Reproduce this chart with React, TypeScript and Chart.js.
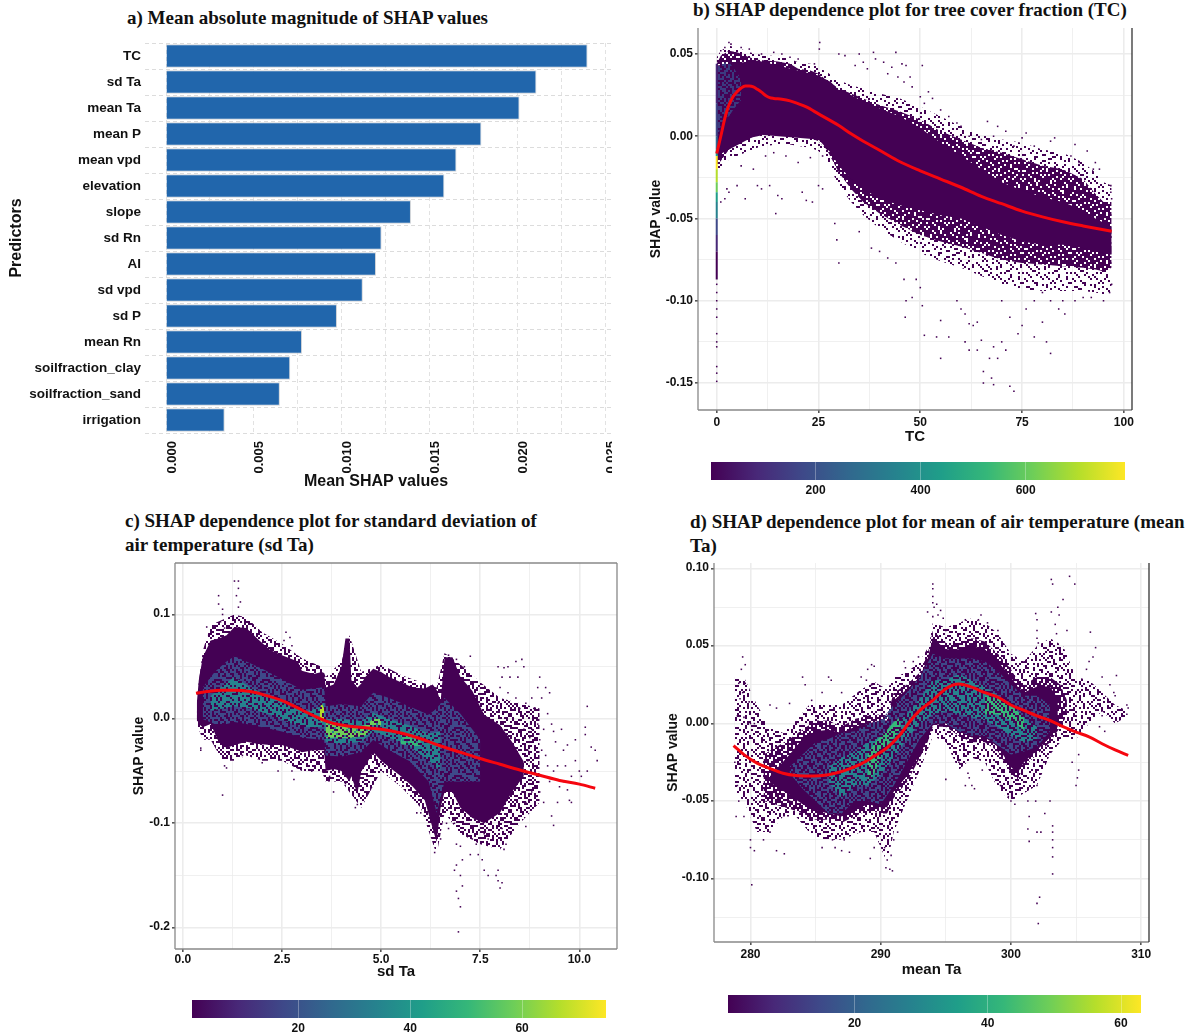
import React, { useEffect, useRef } from "react";
import { Chart, registerables } from "chart.js";
Chart.register(...registerables);

const SANS = "'Liberation Sans', Arial, sans-serif";
const SERIF = "'Liberation Serif', 'Times New Roman', serif";
const DARK = "#440154";

// ---------- panel a ----------
const predictors = ["TC","sd Ta","mean Ta","mean P","mean vpd","elevation","slope","sd Rn","AI","sd vpd","sd P","mean Rn","soilfraction_clay","soilfraction_sand","irrigation"];
const meanShap = [0.02399,0.02108,0.02012,0.01795,0.01653,0.01584,0.01394,0.01227,0.01195,0.0112,0.00973,0.00774,0.00707,0.00648,0.00334];
const shapTicks = [0,0.0025,0.005,0.0075,0.01,0.0125,0.015,0.0175,0.02,0.0225,0.025];
const shapMajor = [0,0.005,0.01,0.015,0.02,0.025];

// ---------- panel b ----------
const tcXTicks = [0,12.5,25,37.5,50,62.5,75,87.5,100];
const tcXMajor = [0,25,50,75,100];
const tcYTicks = [0.05,0.025,0,-0.025,-0.05,-0.075,-0.1,-0.125,-0.15];
const tcYMajor = [0.05,0,-0.05,-0.1,-0.15];
const tcOuterX = [0,1,3,5,8,10,12,15,18,20,23,25,27,30,33,36,40,45,50,55,60,65,70,75,80,85,90,93,95,97];
const tcFringeHi = [0.048,0.052,0.055,0.054,0.051,0.05,0.049,0.049,0.047,0.045,0.044,0.042,0.039,0.034,0.031,0.029,0.026,0.023,0.018,0.012,0.006,0.001,-0.002,-0.004,-0.008,-0.01,-0.016,-0.022,-0.028,-0.03];
const tcFringeLo = [-0.022,-0.02,-0.014,-0.012,-0.009,-0.007,-0.006,-0.005,-0.005,-0.006,-0.007,-0.009,-0.015,-0.03,-0.04,-0.048,-0.056,-0.064,-0.071,-0.076,-0.08,-0.085,-0.09,-0.093,-0.094,-0.094,-0.094,-0.095,-0.096,-0.095];
const tcOuterHi = [0.044,0.049,0.052,0.051,0.048,0.0465,0.046,0.0455,0.044,0.041,0.04,0.038,0.034,0.029,0.026,0.023,0.019,0.015,0.01,0.003,-0.002,-0.007,-0.01,-0.014,-0.018,-0.02,-0.026,-0.035,-0.04,-0.04];
const tcOuterLo = [-0.018,-0.015,-0.008,-0.004,-0.001,0,0.001,0.003,0.002,0.001,-0.001,-0.003,-0.008,-0.022,-0.032,-0.04,-0.047,-0.054,-0.06,-0.064,-0.067,-0.071,-0.075,-0.077,-0.078,-0.079,-0.08,-0.081,-0.082,-0.08];
const tcCoreX = [0,10,25,28,30,33,36,40,45,50,55,60,65,70,75,80,85,90,93,97];
const tcCoreHi = [0.043,0.046,0.037,0.033,0.028,0.025,0.021,0.017,0.012,0.005,-0.004,-0.012,-0.02,-0.028,-0.033,-0.037,-0.04,-0.045,-0.05,-0.055];
const tcCoreLo = [-0.012,0.001,-0.002,-0.01,-0.018,-0.026,-0.032,-0.038,-0.042,-0.045,-0.048,-0.05,-0.055,-0.06,-0.064,-0.066,-0.066,-0.068,-0.07,-0.072];
const tcGlowX = [0.3,1.2,2.4,3,4,6];
const tcGlowHi = [0.043,0.044,0.045,0.045,0.042,0.035];
const tcGlowLo = [0,0.008,0.012,0.012,0.016,0.022];
const tcStripY = [0.044,0.02,0,-0.008,-0.012,-0.02,-0.028,-0.034,-0.04,-0.05,-0.06,-0.07,-0.087];
const tcStripCount = [60,170,300,420,760,720,620,480,330,200,100,40,5];
const tcCurveX = [0,1,2,3,4,5,6,7,8,9,10,11,12,13,14,16,18,20,22,25,30,33,36,40,45,50,55,60,65,70,75,80,85,90,97];
const tcCurveY = [-0.0105,0,0.011,0.019,0.024,0.027,0.0293,0.0305,0.0305,0.03,0.0285,0.0268,0.0248,0.0235,0.023,0.0225,0.0215,0.0198,0.0178,0.0136,0.0065,0.0015,-0.003,-0.0085,-0.0155,-0.021,-0.026,-0.031,-0.0365,-0.041,-0.0455,-0.049,-0.052,-0.0545,-0.0577];
const tcSparse = [[25.3,.057],[25.2,.053],[30,.05],[31.5,.049],[35,.05],[38.5,.051],[39,.047],[41,.045],[43,.042],[44,.051],[45.5,.044],[46.5,.043],[50.5,.043],[36,.045],[37,.041],[34,.043],[42,.038],[44.5,.036],[46,.033],[47.5,.036],[48,.03],[52,.027],[53,.023],[50,.024],[51,.02],[55,.016],[57,.012],[59,.008],[60,.006],[62,0],[65,-.002],[66.5,.009],[69,.006],[68,0],[71,.003],[73,-.006],[75,-.001],[76,.002],[78,-.006],[82,-.003],[83,-.001],[88,-.005],[91,-.009],[87,-.012],[89,-.016],[93,-.016],[92.5,-.02],[94,-.02],[3,-.034],[5,-.03],[7,-.038],[10,-.03],[11,-.032],[13,-.03],[15,-.036],[16,-.038],[14.5,-.047],[2,-.038],[2.5,-.032],[1,-.04],[21,-.034],[22,-.039],[23.5,-.04],[26,-.032],[25,-.03],[29,-.053],[29.5,-.063],[30,-.077],[35,-.058],[38,-.068],[40,-.07],[42,-.074],[44,-.077],[46,-.087],[46.5,-.1],[46.3,-.11],[48,-.098],[49,-.087],[50,-.092],[50.5,-.103],[51,-.121],[54,-.122],[55,-.112],[55,-.135],[57,-.122],[60,-.105],[61,-.108],[59,-.1],[62,-.114],[63,-.115],[64,-.113],[61,-.125],[62,-.13],[64,-.13],[65,-.124],[65.5,-.15],[65.5,-.143],[67,-.135],[67.5,-.147],[68,-.151],[68,-.128],[69,-.135],[70,-.125],[71,-.13],[72,-.152],[73,-.155],[74,-.12],[75,-.115],[76,-.105],[78,-.122],[80,-.113],[81,-.125],[82,-.132],[84,-.105],[85,-.1],[85.5,-.108],[88,-.1],[90,-.098],[92,-.098],[96.5,-.095],[97,-.09],[95,-.1],[70,-.1],[72,-.11],[78,-.1],[80,-.095],[82,-.1],[0,-.09],[0,-.095],[0,-.1],[0,-.105],[0,-.11],[0,-.12],[0,-.125],[0,-.128],[0,-.14],[0,-.144],[0,-.149],[96.8,-.03],[96.8,-.034],[97,-.038],[1,.052],[2,.054],[3,.057],[3.5,.056],[6,.054],[8,.053],[11,.05],[14,.051],[16,.05],[18,.048],[20,.047],[24,.044],[6,-.018],[9,-.02],[12,-.012],[14,-.01],[17,-.012],[20,-.016],[23,-.013],[26,-.012]];

// ---------- panel c ----------
const sdXTicks = [0,1.25,2.5,3.75,5,6.25,7.5,8.75,10];
const sdXMajor = [0,2.5,5,7.5,10];
const sdYTicks = [0.1,0.05,0,-0.05,-0.1,-0.15,-0.2];
const sdYMajor = [0.1,0,-0.1,-0.2];
const sdOuterX = [0.35,0.5,0.7,1,1.3,1.6,2,2.5,3,3.5,3.6,4,4.2,4.5,5,5.5,6,6.4,6.6,7,7.5,8,8.5,9];
const sdOuterHi = [0.02,0.065,0.09,0.095,0.1,0.097,0.083,0.072,0.058,0.05,0.04,0.055,0.08,0.045,0.052,0.042,0.035,0.03,0.063,0.052,0.035,0.02,0.015,0.01];
const sdOuterLo = [-0.005,-0.02,-0.02,-0.04,-0.04,-0.035,-0.04,-0.04,-0.05,-0.05,-0.06,-0.06,-0.07,-0.085,-0.05,-0.065,-0.085,-0.13,-0.09,-0.11,-0.12,-0.125,-0.1,-0.08];
const sdCoreX = [0.35,0.4,0.5,0.7,0.9,1.1,1.3,1.6,1.9,2.2,2.5,2.9,3,3.3,3.5,3.56,3.6,3.8,4,4.1,4.2,4.25,4.4,4.5,4.6,4.8,5,5.2,5.5,5.8,6.1,6.3,6.4,6.5,6.6,6.8,7,7.3,7.6,8,8.3,8.6];
const sdCoreHi = [0.015,0.037,0.059,0.075,0.077,0.08,0.088,0.087,0.076,0.066,0.061,0.055,0.046,0.043,0.045,0.044,0.03,0.033,0.05,0.077,0.077,0.037,0.03,0.034,0.04,0.048,0.045,0.04,0.035,0.03,0.029,0.033,0.028,0.017,0.059,0.059,0.04,0.027,0.004,-0.006,-0.022,-0.041];
const sdCoreLo = [0,-0.005,-0.008,-0.005,-0.022,-0.028,-0.025,-0.022,-0.024,-0.025,-0.025,-0.03,-0.032,-0.03,-0.03,-0.03,-0.05,-0.048,-0.05,-0.055,-0.06,-0.055,-0.072,-0.05,-0.045,-0.032,-0.04,-0.046,-0.055,-0.065,-0.078,-0.105,-0.118,-0.085,-0.07,-0.07,-0.085,-0.095,-0.1,-0.09,-0.07,-0.055];
const sdB1X = [0.5,0.8,1.1,1.3,1.6,2,2.5,3,3.5,3.56,3.6,4,4.5,4.8,5.2,5.7,6.2,6.4,6.6,7,7.5];
const sdB1Lo = [0,-0.005,-0.005,-0.003,-0.005,-0.008,-0.012,-0.018,-0.02,-0.02,-0.035,-0.036,-0.032,-0.02,-0.03,-0.04,-0.06,-0.09,-0.06,-0.06,-0.06];
const sdB1Hi = [0.03,0.045,0.055,0.06,0.055,0.048,0.038,0.028,0.03,0.032,0.012,0.014,0.012,0.025,0.02,0.012,0.004,0.01,0.02,0.005,-0.02];
const sdB2X = [0.7,1,1.3,1.7,2.2,2.7,3.1,3.5,3.56,3.6,4,4.5,4.8,5.2,5.7,6.2,6.5];
const sdB2Lo = [0.008,0.01,0.012,0.01,0.004,-0.004,-0.008,-0.008,-0.005,-0.022,-0.024,-0.022,-0.012,-0.018,-0.026,-0.04,-0.05];
const sdB2Hi = [0.022,0.032,0.04,0.03,0.022,0.012,0.007,0.012,0.018,0,0,-0.002,0.006,0,-0.006,-0.014,-0.012];
const sdB3X = [3.6,3.9,4.3,4.6,4.8,5];
const sdB3Lo = [-0.018,-0.018,-0.018,-0.016,-0.006,-0.006];
const sdB3Hi = [-0.004,-0.006,-0.008,-0.006,0,0];
const sdB4X = [3.45,3.5,3.56];
const sdB4Lo = [0,-0.003,0];
const sdB4Hi = [0.008,0.015,0.01];
const sdB5X = [5.5,5.8,6];
const sdB5Lo = [-0.024,-0.026,-0.026];
const sdB5Hi = [-0.012,-0.016,-0.018];
const sdCurveX = [0.33,0.6,1,1.3,1.7,2,2.5,3,3.3,3.6,3.8,4.2,4.6,5,5.5,6,6.5,7,7.5,8,8.5,9,9.5,10,10.4];
const sdCurveY = [0.0245,0.0262,0.0275,0.0275,0.0262,0.0235,0.0175,0.0085,0.003,-0.002,-0.0045,-0.007,-0.0085,-0.01,-0.0135,-0.019,-0.026,-0.032,-0.038,-0.0435,-0.049,-0.054,-0.059,-0.0625,-0.0665];
const sdSparse = [[.9,.118],[.9,.11],[1,.1],[1.3,.132],[1.4,.132],[1.4,.125],[1.35,.118],[1.45,.112],[1.4,.107],[1,.105],[.95,.093],[1.05,.087],[.6,.088],[.65,.08],[2.6,.083],[2.55,.075],[2.75,.07],[2.7,.078],[3.1,.05],[1,-.073],[.45,-.028],[.45,-.03],[1.05,-.045],[1.1,-.047],[1.5,-.035],[2,-.042],[2.4,-.05],[2.8,-.058],[2.75,-.05],[3.25,-.05],[3.7,-.055],[3.8,-.07],[4.35,-.085],[4.4,-.082],[4.1,-.062],[6.7,.061],[6.9,.057],[7.25,.06],[7.1,.05],[7.95,.05],[8.1,.049],[8.2,.05],[8.4,.055],[8.55,.057],[8.6,.05],[8.25,.04],[8.45,.04],[8.05,.04],[9,.04],[8.95,.03],[9.15,.03],[9.25,.025],[9.05,.02],[8.8,.02],[8.65,.015],[8.4,.02],[8.2,.025],[8,.03],[7.95,.015],[8.5,.01],[8.85,.01],[9.3,-.005],[9.35,-.012],[9.55,-.01],[9.7,-.025],[9.9,-.02],[10.15,-.008],[10.15,-.015],[10.2,.012],[10.4,-.03],[10.45,-.04],[10.3,-.027],[9.1,-.01],[9,-.02],[8.8,-.01],[8.6,-.01],[8.4,-.02],[8.7,-.03],[9.15,-.035],[9.45,-.045],[9.65,-.045],[9.8,-.055],[9.35,-.05],[8.9,-.045],[8.75,-.055],[8.5,-.05],[8.55,-.07],[9,-.07],[9.1,-.08],[9.45,-.08],[9.75,-.078],[9.8,-.08],[9.3,-.093],[9.35,-.102],[8.65,-.08],[8.65,-.103],[8.35,-.06],[8.5,-.04],[10,-.05],[10.2,-.05],[10.05,-.055],[6.9,-.12],[7,-.122],[6.9,-.14],[6.85,-.145],[7,-.15],[6.9,-.165],[6.95,-.172],[7.05,-.16],[7,-.18],[6.95,-.204],[7.05,-.135],[7.25,-.13],[7.3,-.115],[7.4,-.12],[7.45,-.13],[7.55,-.135],[7.6,-.145],[7.6,-.11],[7.9,-.15],[7.95,-.155],[8,-.162],[7.95,-.145],[8.05,-.157],[7.7,-.115],[8.1,-.125],[8.15,-.12],[8.05,-.105],[6.85,-.1],[6.7,-.105],[6.65,-.1],[5.9,-.09],[6,-.09],[6.35,-.128],[6.5,-.115],[6.9,-.095],[7.7,-.15],[9.2,.005],[9.4,-.022],[9.6,-.03],[9.05,-.03],[8.75,-.018],[8.95,-.005],[9.5,-.065],[9.6,-.06],[9.7,-.068],[9.25,-.06],[9.9,-.04],[8.8,-.07],[8.7,-.04],[9.2,-.045],[8.9,-.065]];

// ---------- panel d ----------
const mtXTicks = [280,285,290,295,300,305,310];
const mtXMajor = [280,290,300,310];
const mtYTicks = [0.1,0.075,0.05,0.025,0,-0.025,-0.05,-0.075,-0.1,-0.125];
const mtYMajor = [0.1,0.05,0,-0.05,-0.1];
const mtOuterX = [278.8,279.5,280.5,281.5,282.5,283.5,284.5,285.5,287,288.5,289.5,290.5,291,292,293,293.7,294,295,296,297,298,299,300,301,302,303,304,305,306,307,308,309];
const mtOuterHi = [0.03,0.03,0.012,-0.002,-0.006,0.002,0.012,0.012,0.012,0.022,0.027,0.022,0.03,0.033,0.04,0.05,0.065,0.062,0.065,0.068,0.065,0.058,0.045,0.04,0.05,0.055,0.05,0.03,0.028,0.02,0.012,0.008];
const mtOuterLo = [-0.045,-0.05,-0.07,-0.07,-0.06,-0.06,-0.07,-0.075,-0.075,-0.07,-0.07,-0.09,-0.07,-0.05,-0.03,-0.015,-0.008,-0.012,-0.03,-0.022,-0.025,-0.042,-0.05,-0.045,-0.04,-0.02,-0.01,-0.01,0,0.008,0,0.005];
const mtMidX = [281,283,284,285,286,287,288,289,290,290.5,291,292,293,293.6,294,295,296,297,298,299,300,300.5,301,302,303,303.8,304.3];
const mtMidHi = [-0.02,-0.01,-0.004,0.002,0.002,-0.002,0.003,0.005,0.006,0.005,0.02,0.025,0.033,0.045,0.06,0.052,0.052,0.055,0.053,0.045,0.035,0.028,0.025,0.03,0.03,0.025,0.015];
const mtMidLo = [-0.05,-0.055,-0.058,-0.062,-0.062,-0.064,-0.06,-0.056,-0.058,-0.058,-0.048,-0.038,-0.022,-0.012,-0.002,-0.002,-0.008,-0.012,-0.012,-0.018,-0.032,-0.036,-0.028,-0.02,-0.012,-0.002,0.005];
const mtCoreX = [281.5,283,284,285,286,287,288,289,290,290.5,291,292,293,293.6,294,295,296,297,298,299,300,300.5,301,302,303,303.6];
const mtCoreHi = [-0.034,-0.02,-0.01,-0.005,-0.004,-0.006,-0.002,0,0.002,0.002,0.015,0.022,0.03,0.042,0.055,0.048,0.048,0.05,0.048,0.04,0.03,0.024,0.02,0.024,0.024,0.016];
const mtCoreLo = [-0.038,-0.046,-0.052,-0.056,-0.058,-0.06,-0.056,-0.052,-0.054,-0.054,-0.044,-0.034,-0.02,-0.01,-0.001,0,-0.005,-0.009,-0.009,-0.015,-0.028,-0.032,-0.025,-0.017,-0.009,-0.002];
const mtB1X = [283,284,285,286,287,288,289,290,291,292,293,294,295,296,297,298,299,300,301,302,303];
const mtB1Lo = [-0.032,-0.042,-0.05,-0.058,-0.058,-0.05,-0.05,-0.052,-0.04,-0.025,-0.01,0,0,-0.005,-0.008,-0.008,-0.014,-0.02,-0.018,-0.015,-0.005];
const mtB1Hi = [-0.028,-0.02,-0.012,-0.01,-0.006,-0.005,0,0.002,0.012,0.02,0.03,0.045,0.042,0.042,0.042,0.04,0.034,0.025,0.018,0.018,0.012];
const mtB2X = [286,287,288,289,290,291,292,293,294,295,296,297,298,299,300,301,302];
const mtB2Lo = [-0.038,-0.048,-0.04,-0.04,-0.033,-0.022,-0.01,0,0.006,0.008,0.006,0.004,0.002,-0.002,-0.008,-0.012,-0.01];
const mtB2Hi = [-0.028,-0.022,-0.018,-0.012,-0.008,-0.002,0.006,0.016,0.028,0.028,0.032,0.028,0.024,0.018,0.012,0.004,-0.002];
const mtB3X = [289,289.5,290,290.5,291,291.5];
const mtB3Lo = [-0.038,-0.032,-0.022,-0.014,-0.009,-0.004];
const mtB3Hi = [-0.02,-0.013,-0.008,-0.004,0.001,0.004];
const mtB4X = [298,299,300,301];
const mtB4Lo = [0.006,0.006,0.002,-0.004];
const mtB4Hi = [0.018,0.016,0.012,0.004];
const mtCurveX = [278.7,279.5,280.5,281.5,282.5,283.5,284.5,285.5,286.5,287.5,288.5,289.5,290.5,291.5,292.3,293,294,295,296,297,298,299,300,301,302,303,304,305,306,307,308,309];
const mtCurveY = [-0.0142,-0.02,-0.0255,-0.029,-0.032,-0.0335,-0.0338,-0.0335,-0.032,-0.0295,-0.026,-0.021,-0.0155,-0.007,0.002,0.0085,0.015,0.0225,0.0255,0.0235,0.02,0.017,0.012,0.0085,0.005,0.002,-0.002,-0.0055,-0.0085,-0.013,-0.017,-0.0205];
const mtSparse = [[294,.09],[294,.087],[294,.082],[294,.078],[294.1,.075],[294.3,.077],[294.6,.073],[294.4,.07],[294.8,.068],[293.6,.072],[294,.069],[295,.06],[296.5,.067],[297.7,.07],[297.5,.067],[298.2,.065],[299,.06],[301.9,.071],[302,.067],[302,.06],[302,.055],[302.1,.052],[303.1,.093],[303.2,.09],[303.1,.072],[303.6,.075],[303.7,.07],[304,.08],[303.4,.064],[303.5,.058],[304.3,.06],[304.5,.095],[304.9,.09],[306.1,.059],[306.5,.049],[306.3,.043],[306,.04],[305.8,.035],[307,.03],[308.1,.031],[307.6,.025],[307.9,.02],[308,.018],[308.9,.012],[309,.01],[308.9,.006],[307,.005],[306.8,-.002],[307.2,-.005],[279.4,.043],[279.6,.038],[279.3,.035],[279.1,.026],[279.6,.026],[279.4,.02],[279.2,.016],[279.9,.014],[279,.005],[279.5,.004],[280,0],[280.3,0],[278.8,-.025],[279,-.04],[279.1,-.05],[278.9,-.06],[279.5,-.06],[280,-.075],[280,-.08],[280.3,-.082],[280.1,-.104],[281,-.075],[281.5,-.07],[282,-.082],[282.6,-.084],[283,-.05],[284,.03],[284.2,.025],[283,.013],[282,.01],[281.5,.012],[284.7,.015],[285.5,.02],[286,.03],[286.2,.028],[287,.02],[288.5,.03],[289,.035],[289.3,.038],[289.5,.037],[288.9,.028],[289.3,.025],[291.8,.04],[291.9,.036],[292.5,.04],[292.9,.043],[293,.035],[285.5,-.08],[286.3,-.075],[286.5,-.08],[287,-.082],[287.6,-.083],[287.2,-.075],[289.2,-.087],[289.5,-.08],[290.3,-.08],[290.5,-.088],[290.4,-.093],[290.7,-.094],[290.9,-.095],[290.8,-.085],[291,-.075],[291.3,-.07],[296,-.025],[296.5,-.04],[296.7,-.032],[297,-.04],[297.2,-.042],[296.8,-.035],[295,-.036],[297.8,-.03],[299.2,-.04],[300,-.05],[300.3,-.052],[299.8,-.047],[301.3,-.05],[301.4,-.06],[301.3,-.068],[301.4,-.076],[302,-.07],[302.3,-.07],[302.6,-.058],[303.2,-.066],[303.2,-.07],[303.2,-.075],[303.2,-.08],[303.2,-.086],[303.2,-.097],[302.2,-.112],[302,-.116],[302.1,-.129],[304.7,-.025],[305,-.04],[305.2,-.03],[305.1,-.035],[305.2,-.02],[303,-.05],[302,-.04],[301.9,-.05]];

// ---------- colour bars ----------
const viridisStops = ["#440154","#482878","#3e4989","#31688e","#26828e","#1f9e89","#35b779","#6ece58","#b5de2b","#fde725"];
const tcBarTicks = [200,400,600];
const sdBarTicks = [20,40,60];
const mtBarTicks = [20,40,60];

// grain of the binned cloud: a cell is painted when its digit is below the band's level
const grainRows = [
  "739150268417359208641753","182647930521846079315264","506381274968125730498617","941726058319064287153908",
  "275093816402579361840726","648310729584936102758349","317965402873140695283061","850249163706528471936582",
  "463178590241793850264179","029536847165082317649035","716804932578461923075846","395261078436907154382910",
  "584792136050638279416723","201347685921745063897154","967013254786319420685237","138659420317852946071368",
  "670284913565024178392605","425916370841693520748194","893047162538210769354872","056372849106478315926041",
  "729581036294861037152689","314860527973102648095316","682139745016594872361407","947305681429036157482953",
];

function grain(color: string, level: number, cell = 2) {
  const n = grainRows.length;
  const tile = document.createElement("canvas");
  tile.width = n * cell;
  tile.height = n * cell;
  const c = tile.getContext("2d") as CanvasRenderingContext2D;
  c.fillStyle = color;
  grainRows.forEach((row, r) => {
    row.split("").forEach((d, k) => {
      if (Number(d) < level) c.fillRect(k * cell, r * cell, cell, cell);
    });
  });
  return c.createPattern(tile, "repeat");
}

const viridis = (t: number) => viridisStops[Math.max(0, Math.min(viridisStops.length - 1, Math.round(t * (viridisStops.length - 1))))];
const pts = (xs: number[], ys: number[]) => xs.map((x, i) => ({ x, y: ys[i] }));

const band = (xs: number[], lo: number[], hi: number[], color: any) => [
  { data: pts(xs, hi), fill: "+1", backgroundColor: color, borderWidth: 0, pointRadius: 0, tension: 0 },
  { data: pts(xs, lo), fill: false, borderWidth: 0, pointRadius: 0, tension: 0 },
];
const scatter = (list: number[][]) => ({
  data: list.map(([x, y]) => ({ x, y })), showLine: false, pointStyle: "rect", pointRadius: 1.1,
  pointBackgroundColor: DARK, pointBorderWidth: 0,
});
const curve = (xs: number[], ys: number[]) => ({
  data: pts(xs, ys), borderColor: "#f5060f", borderWidth: 3, pointRadius: 0, tension: 0.35, fill: false,
  cubicInterpolationMode: "monotone",
});

const framePlugin = {
  id: "frame",
  afterDatasetsDraw(chart: any, _a: any, o: any) {
    const { ctx, chartArea: c } = chart;
    ctx.save();
    const line = (x1: number, y1: number, x2: number, y2: number, col: string) => {
      ctx.strokeStyle = col; ctx.lineWidth = 1.3; ctx.beginPath(); ctx.moveTo(x1, y1); ctx.lineTo(x2, y2); ctx.stroke();
    };
    if (o.left) line(c.left, c.top, c.left, c.bottom, o.left);
    if (o.bottom) line(c.left, c.bottom, c.right, c.bottom, o.bottom);
    if (o.right) line(c.right, c.top, c.right, c.bottom, o.right);
    if (o.top) line(c.left, c.top, c.right, c.top, o.top);
    ctx.restore();
  },
};

const font = (size: number) => ({ family: SANS, weight: "bold" as const, size });
const fmt = (v: number, d: number) => v.toFixed(d);

type Box = { cl: number; ct: number; cr: number; cb: number; pl: number; pt: number; pr: number; pb: number };
const boxStyle = (b: Box) => ({ position: "absolute" as const, left: b.cl, top: b.ct, display: "block" });

function scatterConfig(b: Box, p: any) {
  const axisGrid = (major: number[]) => ({
    color: "#ececec",
    lineWidth: (c: any) => (major.includes(c.tick?.value) ? 1.6 : 0.8),
    tickColor: (c: any) => (major.includes(c.tick?.value) ? "#555" : "rgba(0,0,0,0)"),
    tickLength: 3,
  });
  const datasets = p.datasets.map((d: any, i: number, a: any[]) => ({ ...d, order: a.length - i }));
  return {
    type: "line",
    data: { datasets },
    plugins: [framePlugin],
    options: {
      responsive: false, animation: false, events: [],
      layout: { padding: { top: b.pt - b.ct, right: b.cr - b.pr, left: 0, bottom: 0 } },
      plugins: { legend: { display: false }, tooltip: { enabled: false }, frame: p.frame },
      scales: {
        x: {
          type: "linear", min: p.xMin, max: p.xMax,
          afterBuildTicks: (a: any) => { a.ticks = p.xTicks.map((value: number) => ({ value })); },
          afterFit: (s: any) => { s.height = b.cb - b.pb; s.paddingLeft = 0; s.paddingRight = 0; },
          border: { display: false },
          grid: axisGrid(p.xMajor),
          ticks: { autoSkip: false, maxRotation: 0, minRotation: 0, padding: p.xTickPad, color: "#111", font: font(12),
            callback: (v: number) => (p.xMajor.includes(v) ? fmt(v, p.xDec) : "") },
          title: { display: true, text: p.xTitle, color: "#111", font: font(15), padding: { top: 2, bottom: p.xTitleBottom } },
        },
        y: {
          type: "linear", min: p.yMin, max: p.yMax,
          afterBuildTicks: (a: any) => { a.ticks = p.yTicks.map((value: number) => ({ value })); },
          afterFit: (s: any) => { s.width = b.pl - b.cl; s.paddingTop = 0; s.paddingBottom = 0; },
          border: { display: false },
          grid: axisGrid(p.yMajor),
          ticks: { autoSkip: false, padding: 2, labelOffset: p.yLabelOffset, color: "#111", font: font(12),
            callback: (v: number) => (p.yMajor.includes(v) ? fmt(v, p.yDec) : "") },
          title: { display: true, text: "SHAP value", color: "#111", font: font(14), padding: { top: p.yTitleTop, bottom: 0 } },
        },
      },
    },
  };
}

const boxA: Box = { cl: 0, ct: 30, cr: 612, cb: 495, pl: 166, pt: 43, pr: 612, pb: 433 };
const boxB: Box = { cl: 640, ct: 20, cr: 1140, cb: 450, pl: 698, pt: 28, pr: 1132, pb: 410 };
const boxC: Box = { cl: 120, ct: 555, cr: 625, cb: 985, pl: 175, pt: 563, pr: 617, pb: 949 };
const boxD: Box = { cl: 655, ct: 555, cr: 1160, cb: 985, pl: 714, pt: 563, pr: 1149, pb: 942 };

const barBoxes = {
  b: { left: 711, top: 462, width: 414, height: 18 },
  c: { left: 192, top: 1000, width: 414, height: 18 },
  d: { left: 728, top: 995, width: 413, height: 18 },
};

function barConfig(min: number, max: number, ticks: number[]) {
  return {
    type: "bar",
    data: {
      labels: [""],
      datasets: [{
        data: [[min, max]], barPercentage: 1, categoryPercentage: 1, borderWidth: 0,
        backgroundColor: (c: any) => {
          const a = c.chart.chartArea;
          if (!a) return viridisStops[0];
          const g = c.chart.ctx.createLinearGradient(a.left, 0, a.right, 0);
          viridisStops.forEach((s, i) => g.addColorStop(i / (viridisStops.length - 1), s));
          return g;
        },
      }],
    },
    options: {
      indexAxis: "y", responsive: false, animation: false, events: [],
      layout: { padding: 0 },
      plugins: { legend: { display: false }, tooltip: { enabled: false } },
      scales: {
        x: {
          type: "linear", min, max,
          afterBuildTicks: (a: any) => { a.ticks = ticks.map((value) => ({ value })); },
          afterFit: (s: any) => { s.height = 20; s.paddingLeft = 0; s.paddingRight = 0; },
          border: { display: false },
          grid: { z: 1, color: "rgba(255,255,255,0.3)", tickLength: 0 },
          ticks: { autoSkip: false, maxRotation: 0, padding: 3, color: "#111", font: font(12) },
        },
        y: { display: false, grid: { display: false } },
      },
    },
  };
}

function useChart(build: () => any) {
  const ref = useRef<HTMLCanvasElement | null>(null);
  useEffect(() => {
    const chart = new Chart(ref.current as any, build());
    return () => chart.destroy();
  }, []);
  return ref;
}

const offsetTitle = {
  id: "offsetTitle",
  afterDraw(chart: any) {
    const { ctx } = chart;
    ctx.save();
    ctx.font = `bold 16px ${SANS}`;
    ctx.fillStyle = "#111";
    ctx.textAlign = "center";
    ctx.textBaseline = "middle";
    ctx.fillText("Mean SHAP values", 376, 482 - boxA.ct);
    ctx.restore();
  },
};

function configA() {
  return {
    type: "bar",
    data: {
      labels: predictors,
      datasets: [{ data: meanShap, backgroundColor: "#2166ac", borderColor: "#cfd3d8", borderWidth: 1, barPercentage: 0.9, categoryPercentage: 1 }],
    },
    plugins: [offsetTitle],
    options: {
      indexAxis: "y", responsive: false, animation: false, events: [],
      layout: { padding: { top: boxA.pt - boxA.ct, right: 0, left: 0, bottom: 0 } },
      plugins: { legend: { display: false }, tooltip: { enabled: false } },
      scales: {
        x: {
          type: "linear", min: 0, max: 0.02538,
          afterBuildTicks: (a: any) => { a.ticks = shapTicks.map((value) => ({ value })); },
          afterFit: (s: any) => { s.height = boxA.cb - boxA.pb; s.paddingLeft = 0; s.paddingRight = 0; },
          border: { display: false, dash: [4, 3] },
          grid: { color: "#e2e2e2", tickLength: 0, lineWidth: 1 },
          ticks: { autoSkip: false, minRotation: 90, maxRotation: 90, padding: 8, labelOffset: 6, color: "#111", font: font(13),
            callback: (v: number) => (shapMajor.includes(v) ? v.toFixed(3) : "") },
          title: { display: false },
        },
        y: {
          type: "category",
          afterFit: (s: any) => { s.width = boxA.pl - boxA.cl; s.paddingTop = 0; s.paddingBottom = 0; },
          border: { display: false, dash: [4, 3] },
          grid: { color: "#dcdcdc", tickColor: "#dcdcdc", tickBorderDash: [4, 3], tickLength: 21, lineWidth: 1 },
          ticks: { autoSkip: false, padding: 4, color: "#111", font: font(13.5) },
          title: { display: true, text: "Predictors", color: "#111", font: font(16), padding: { top: 7, bottom: 0 } },
        },
      },
    },
  };
}

function configB() {
  return scatterConfig(boxB, {
    xMin: -4.6, xMax: 102, yMin: -0.1664, yMax: 0.0658,
    xTicks: tcXTicks, xMajor: tcXMajor, xDec: 0, yTicks: tcYTicks, yMajor: tcYMajor, yDec: 2, xTitle: "TC",
    xTickPad: 2, xTitleBottom: 4, yTitleTop: 8, yLabelOffset: 0,
    frame: { left: "#888", bottom: "#888", right: "#333" },
    datasets: [
      ...band(tcOuterX, tcFringeLo, tcFringeHi, grain(DARK, 2)),
      ...band(tcOuterX, tcOuterLo, tcOuterHi, grain(DARK, 8)),
      ...band(tcCoreX, tcCoreLo, tcCoreHi, DARK),
      ...band(tcGlowX, tcGlowLo, tcGlowHi, grain("#3b3a80", 5)),
      scatter(tcSparse),
      {
        data: pts(tcStripY.map(() => 0), tcStripY), borderWidth: 2, pointRadius: 0, fill: false,
        segment: { borderColor: (c: any) => viridis(tcStripCount[c.p0DataIndex] / 789) },
      },
      curve(tcCurveX, tcCurveY),
    ],
  });
}

function configC() {
  return scatterConfig(boxC, {
    xMin: -0.2, xMax: 10.95, yMin: -0.2204, yMax: 0.1493,
    xTicks: sdXTicks, xMajor: sdXMajor, xDec: 1, yTicks: sdYTicks, yMajor: sdYMajor, yDec: 1, xTitle: "sd Ta",
    xTickPad: 0, xTitleBottom: 4, yTitleTop: 11, yLabelOffset: -1,
    frame: { left: "#888", bottom: "#888", right: "#888", top: "#888" },
    datasets: [
      ...band(sdOuterX, sdOuterLo, sdOuterHi, grain(DARK, 4)),
      ...band(sdCoreX, sdCoreLo, sdCoreHi, DARK),
      ...band(sdB1X, sdB1Lo, sdB1Hi, grain("#3e4989", 6)),
      ...band(sdB2X, sdB2Lo, sdB2Hi, grain("#26828e", 7)),
      ...band(sdB3X, sdB3Lo, sdB3Hi, grain("#6ece58", 6)),
      ...band(sdB4X, sdB4Lo, sdB4Hi, grain("#b5de2b", 8)),
      ...band(sdB5X, sdB5Lo, sdB5Hi, grain("#35b779", 6)),
      scatter(sdSparse),
      curve(sdCurveX, sdCurveY),
    ],
  });
}

function configD() {
  return scatterConfig(boxD, {
    xMin: 277.2, xMax: 310.6, yMin: -0.1409, yMax: 0.1036,
    xTicks: mtXTicks, xMajor: mtXMajor, xDec: 0, yTicks: mtYTicks, yMajor: mtYMajor, yDec: 2, xTitle: "mean Ta",
    xTickPad: 2, xTitleBottom: 6, yTitleTop: 10, yLabelOffset: -1,
    frame: { left: "#888", bottom: "#888", right: "#333" },
    datasets: [
      ...band(mtOuterX, mtOuterLo, mtOuterHi, grain(DARK, 3)),
      ...band(mtMidX, mtMidLo, mtMidHi, grain(DARK, 7)),
      ...band(mtCoreX, mtCoreLo, mtCoreHi, DARK),
      ...band(mtB1X, mtB1Lo, mtB1Hi, grain("#3e4989", 5)),
      ...band(mtB2X, mtB2Lo, mtB2Hi, grain("#26828e", 6)),
      ...band(mtB3X, mtB3Lo, mtB3Hi, grain("#35b779", 6)),
      ...band(mtB4X, mtB4Lo, mtB4Hi, grain("#35b779", 6)),
      scatter(mtSparse),
      curve(mtCurveX, mtCurveY),
    ],
  });
}

function Plot({ box, build }: { box: Box; build: () => any }) {
  const ref = useChart(build);
  return <canvas ref={ref} width={box.cr - box.cl} height={box.cb - box.ct} style={boxStyle(box)} />;
}

function ColorBar({ box, min, max, ticks }: any) {
  const ref = useChart(() => barConfig(min, max, ticks));
  return <canvas ref={ref} width={box.width} height={box.height + 20} style={{ position: "absolute", left: box.left, top: box.top, display: "block" }} />;
}

const titleStyle = (left: number, top: number): React.CSSProperties => ({
  position: "absolute", left, top, margin: 0, font: `bold 19px/24px ${SERIF}`, color: "#111", whiteSpace: "pre",
});

export default function App() {
  return (
    <div style={{ position: "absolute", left: 0, top: 0, width: 1190, height: 1035, overflow: "hidden", background: "#fff" }}>
      <div style={titleStyle(127, 6)}>a) Mean absolute magnitude of SHAP values</div>
      <div style={titleStyle(693, -2)}>b) SHAP dependence plot for tree cover fraction (TC)</div>
      <div style={titleStyle(125, 509)}>{"c) SHAP dependence plot for standard deviation of\nair temperature (sd Ta)"}</div>
      <div style={titleStyle(690, 510)}>{"d) SHAP dependence plot for mean of air temperature (mean\nTa)"}</div>
      <Plot box={boxA} build={configA} />
      <Plot box={boxB} build={configB} />
      <Plot box={boxC} build={configC} />
      <Plot box={boxD} build={configD} />
      <ColorBar box={barBoxes.b} min={1} max={789} ticks={tcBarTicks} />
      <ColorBar box={barBoxes.c} min={1} max={75} ticks={sdBarTicks} />
      <ColorBar box={barBoxes.d} min={1} max={63} ticks={mtBarTicks} />
    </div>
  );
}
